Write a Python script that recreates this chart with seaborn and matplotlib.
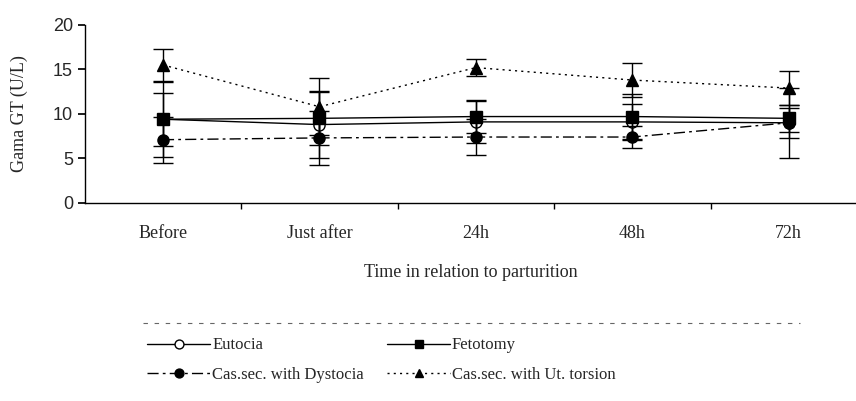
import matplotlib
matplotlib.use("Agg")
import matplotlib.pyplot as plt
from matplotlib.lines import Line2D
import pandas as pd
import seaborn as sns

sns.set_theme(style="white")
plt.rcParams["font.family"] = ["Liberation Serif", "DejaVu Serif"]

TIMES = ["Before", "Just after", "24h", "48h", "72h"]
GROUPS = ["Eutocia", "Fetotomy", "Cas.sec. with Dystocia", "Cas.sec. with Ut. torsion"]

eutocia = [9.4, 8.8, 9.1, 9.1, 9.0]
fetotomy = [9.4, 9.5, 9.7, 9.7, 9.5]
dystocia = [7.1, 7.3, 7.4, 7.4, 9.0]
torsion = [15.5, 10.8, 15.2, 13.8, 12.9]

eutocia_sd = [4.2, 3.8, 2.4, 2.0, 1.7]
fetotomy_sd = [3.0, 3.0, 1.9, 2.5, 1.5]
dystocia_sd = [2.6, 3.0, 2.0, 1.2, 3.9]
torsion_sd = [1.8, 3.2, 1.0, 1.9, 1.9]

STYLE = {
    "Eutocia": dict(ls="-", marker="o", mfc="white"),
    "Fetotomy": dict(ls="-", marker="s", mfc="black"),
    "Cas.sec. with Dystocia": dict(ls=(0, (8, 3, 2, 3)), marker="o", mfc="black"),
    "Cas.sec. with Ut. torsion": dict(ls=(0, (1.5, 3)), marker="^", mfc="black"),
}

df = pd.DataFrame({
    "time": TIMES * 4,
    "group": [g for g in GROUPS for _ in TIMES],
    "value": eutocia + fetotomy + dystocia + torsion,
    "sd": eutocia_sd + fetotomy_sd + dystocia_sd + torsion_sd,
})

fig = plt.figure(figsize=(8.56, 4.01), dpi=100)
ax = fig.add_axes([0.099, 0.494, 0.901, 0.444])

for g in GROUPS:
    sub = df[df["group"] == g]
    st = STYLE[g]
    sns.lineplot(data=sub, x="time", y="value", ax=ax, color="black", lw=1.0,
                 linestyle=st["ls"], marker=st["marker"], markersize=8,
                 markerfacecolor=st["mfc"], markeredgecolor="black", markeredgewidth=1.0,
                 label=g, sort=False)
    ax.errorbar(range(len(sub)), sub["value"], yerr=sub["sd"], fmt="none",
                ecolor="black", elinewidth=1.0, capsize=7, capthick=1.0)

ax.set_xlim(-0.5, 4.43)
ax.set_ylim(0, 20)
ax.set_yticks([0, 5, 10, 15, 20])
ax.set_xticks(range(len(TIMES)))
ax.set_xticklabels(TIMES, fontsize=13)
ax.set_xticks([0.5, 1.5, 2.5, 3.5], minor=True)
ax.tick_params(axis="x", which="major", length=0, pad=16)
ax.tick_params(axis="x", which="minor", length=4, direction="out", color="black", bottom=True)
ax.tick_params(axis="y", length=5, direction="out", color="black", left=True, labelsize=13)
for lab in ax.get_yticklabels():
    lab.set_fontfamily("Liberation Sans")
for s in ["top", "right"]:
    ax.spines[s].set_visible(False)
for s in ["left", "bottom"]:
    ax.spines[s].set_color("black")
    ax.spines[s].set_linewidth(1.0)

ax.set_ylabel("Gama GT (U/L)", fontsize=13, labelpad=18)
ax.set_xlabel("Time in relation to parturition", fontsize=13, labelpad=16)

ax.get_legend().remove()
handles, labels = ax.get_legend_handles_labels()
order = [0, 2, 1, 3]
fig.legend([handles[i] for i in order], [labels[i] for i in order],
           loc="upper left", bbox_to_anchor=(0.164, 0.175),
           ncol=2, frameon=False, fontsize=12, handlelength=3.8, handletextpad=0.1,
           columnspacing=1.4, labelspacing=0.8, borderaxespad=0, markerscale=0.8)

# dashed rule above the legend, as in the original scan
fig.add_artist(Line2D([0.167, 0.935], [0.195, 0.195], transform=fig.transFigure,
                      color="0.4", lw=0.8, ls=(0, (4, 6))))

fig.savefig("out.png", dpi=100)
